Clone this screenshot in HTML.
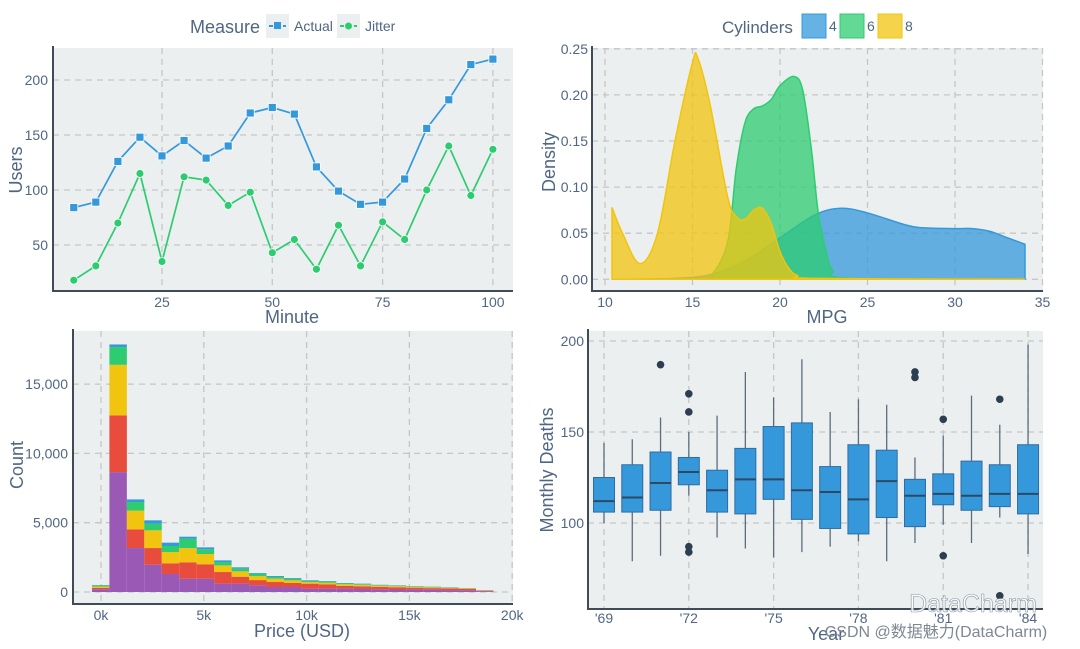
<!DOCTYPE html>
<html><head><meta charset="utf-8">
<style>
html,body{margin:0;padding:0;background:#fff;}
svg{display:block;font-family:"Liberation Sans","Noto Sans CJK SC",sans-serif;}
.tick{font-size:14px;fill:#506784;}
.title{font-size:18px;fill:#506784;}
</style></head>
<body>
<svg id="root" width="1080" height="649" viewBox="0 0 1080 649">
<g id="p1"></g>
<g id="p2"></g>
<g id="p3"></g>
<g id="p4"></g>
<text x="973" y="612" text-anchor="middle" font-size="25" fill="#ffffff" fill-opacity="0.85" stroke="#8a96a3" stroke-width="0.6">DataCharm</text>
<text x="936" y="637" text-anchor="middle" font-size="16" fill="#7d8894">CSDN @数据魅力(DataCharm)</text>
</svg>
<script>
// ---- chart 1 data ----
const minutes = [5,10,15,20,25,30,35,40,45,50,55,60,65,70,75,80,85,90,95,100];
const actualUsers = [84,89,126,148,131,145,129,140,170,175,169,121,99,87,89,110,156,182,214,219];
const jitterUsers = [18,31,70,115,35,112,109,86,98,43,55,28,68,31,71,55,100,140,95,137];
const userTicks = [50,100,150,200];
const minuteTicks = [25,50,75,100];
// ---- chart 2 data ----
const mpg4x = [10.4,14,16,18,20,22,23.5,25,27,28,30,31,32,33,34];
const mpg4y = [0,0.001,0.005,0.02,0.045,0.07,0.077,0.072,0.06,0.056,0.055,0.055,0.052,0.045,0.038];
const mpg6x = [10.4,15,16,17,17.5,18,18.5,19,19.5,20,20.8,21.3,21.8,22.2,22.7,23,24,34];
const mpg6y = [0,0.0005,0.003,0.04,0.12,0.17,0.185,0.188,0.195,0.21,0.22,0.205,0.14,0.07,0.025,0.01,0.001,0];
const mpg8x = [10.4,11,12,13,14,15,15.3,16,17,17.5,18,18.5,19,19.5,20,20.5,21,22,34];
const mpg8y = [0.078,0.05,0.017,0.05,0.15,0.235,0.24,0.19,0.09,0.068,0.065,0.075,0.077,0.06,0.03,0.012,0.004,0.001,0];
const densityTicks = [0,0.05,0.1,0.15,0.2,0.25];
const mpgTicks = [10,15,20,25,30,35];
// ---- chart 3 data ----
const binStart = -440, binWidth = 849;
const histPurple = [200,8650,3170,1970,1300,960,960,600,600,480,360,360,240,240,240,220,200,180,170,160,140,120,60];
const histRed = [100,4090,1350,1200,770,1180,1040,840,500,380,360,290,360,310,200,190,170,160,140,120,110,100,40];
const histYellow = [100,3650,1350,1280,810,1030,740,480,390,290,240,190,120,120,120,110,90,80,70,60,50,40,20];
const histGreen = [80,1280,620,480,440,680,340,240,190,170,120,120,70,100,60,50,40,40,30,30,20,20,10];
const histBlue = [20,190,190,240,240,140,140,120,100,50,70,50,50,20,30,30,20,20,20,20,20,10,5];
const countTicks = [0,5000,10000,15000];
const countLabels = ["0","5,000","10,000","15,000"];
const priceTicks = [0,5000,10000,15000,20000];
const priceLabels = ["0k","5k","10k","15k","20k"];
// ---- chart 4 data ----
const years = [69,70,71,72,73,74,75,76,77,78,79,80,81,82,83,84];
const whiskLow = [100,79,82,115,92,86,81,84,87,90,79,89,99,89,103,83];
const q1 = [106,106,107,121,106,105,113,102,97,94,103,98,110,107,109,105];
const medians = [112,114,122,128,118,124,124,118,117,113,123,115,116,115,116,116];
const q3 = [125,132,139,136,129,141,153,155,131,143,140,124,127,134,132,143];
const whiskHigh = [144,146,158,150,159,183,169,190,161,168,165,136,148,170,154,198];
const outlierYears = [71,72,72,72,72,80,80,81,81,83,83];
const outlierVals = [187,171,161,87,84,183,180,157,82,168,60];
const deathTicks = [100,150,200];
const yearTicks = [69,72,75,78,81,84];

const NS = "http://www.w3.org/2000/svg";
function mk(parent, tag, attrs, text){
  const e = document.createElementNS(NS, tag);
  for (const k in attrs) e.setAttribute(k, attrs[k]);
  if (text !== undefined) e.textContent = text;
  parent.appendChild(e);
  return e;
}
function frame(g, L, T, R, B, name){
  const bg = mk(g,'rect',{x:L,y:T,width:R-L,height:B-T,fill:'#ebeff0'});
  
  
}
function axes(g, L, T, R, B){
  const a = mk(g,'path',{d:`M${L},${T-2}V${B}H${R}`,fill:'none',stroke:'#3f4b57','stroke-width':2});
  
  
}
function vgrid(g, x, T, B){ mk(g,'line',{x1:x,x2:x,y1:T,y2:B,stroke:'#c4c6c8','stroke-width':1.3,'stroke-dasharray':'6,5'}); }
function hgrid(g, y, L, R){ mk(g,'line',{x1:L,x2:R,y1:y,y2:y,stroke:'#c4c6c8','stroke-width':1.3,'stroke-dasharray':'6,5'}); }
function ytitle(g, x, y, s){
  const t = mk(g,'text',{x:x,y:y,class:'title','text-anchor':'middle',transform:`rotate(-90 ${x} ${y})`},s);
  
  
}
function xtitle(g, x, y, s){
  const t = mk(g,'text',{x:x,y:y,class:'title','text-anchor':'middle'},s);
  
  
}

// ===== Chart 1 =====
(function(){
  const g = document.getElementById('p1');
  const L=53,T=48,R=513,B=291;
  const xs = v => 51.7 + v*110.3/25;
  const ys = v => 300 - v*55/50;
  frame(g,L,T,R,B,'users');
  minuteTicks.forEach(t=>{ vgrid(g,xs(t),T,B);
    const e = mk(g,'text',{x:xs(t),y:307,class:'tick','text-anchor':'middle'},t);
      });
  userTicks.forEach(t=>{ hgrid(g,ys(t),L,R);
    const e = mk(g,'text',{x:L-5,y:ys(t)+5,class:'tick','text-anchor':'end'},t);
      });
  axes(g,L,T,R,B);
  function series(vals,color,sq,name){
    const p = mk(g,'polyline',{points:minutes.map((m,i)=>xs(m)+','+ys(vals[i])).join(' '),fill:'none',stroke:color,'stroke-width':1.7});
     
    minutes.forEach((m,i)=>{
      let e;
      if(sq) e = mk(g,'rect',{x:xs(m)-4,y:ys(vals[i])-4,width:8,height:8,fill:color,stroke:'#fff','stroke-width':0.8});
      else e = mk(g,'circle',{cx:xs(m),cy:ys(vals[i]),r:4,fill:color,stroke:'#fff','stroke-width':0.8});
       
    });
  }
  series(actualUsers,'#3498db',true,'actual');
  series(jitterUsers,'#2ecc71',false,'jitter');
  ytitle(g,22,170,'Users'); xtitle(g,292,323,'Minute');
  const lt = mk(g,'text',{x:190,y:33,class:'title'},'Measure');
   
  [['Actual','#3498db',true,266],['Jitter','#2ecc71',false,337]].forEach(([n,c,sq,x])=>{
    const lg = mk(g,'g',{});
     
    mk(lg,'rect',{x:x,y:14,width:23,height:24,fill:'#ebeff0'});
    mk(lg,'line',{x1:x+3,x2:x+20,y1:26,y2:26,stroke:c,'stroke-width':2,'stroke-dasharray':'4,3'});
    if(sq) mk(lg,'rect',{x:x+8,y:22,width:7,height:7,fill:c}); else mk(lg,'circle',{cx:x+11.5,cy:26,r:3.5,fill:c});
    mk(lg,'text',{x:x+28,y:31,class:'tick','font-size':'14px'},n);
  });
})();

// ===== Chart 2 =====
(function(){
  const g = document.getElementById('p2');
  const L=592,T=48,R=1043,B=291;
  const xs = v => 605 + (v-10)*87.5/5;
  const ys = v => 279.3 - v*46.1/0.05;
  frame(g,L,T,R,B,'density');
  mpgTicks.forEach(t=>{ vgrid(g,xs(t),T,B);
    const e = mk(g,'text',{x:xs(t),y:307,class:'tick','text-anchor':'middle'},t);
      });
  densityTicks.forEach(t=>{ hgrid(g,ys(t),L,R);
    const e = mk(g,'text',{x:L-4,y:ys(t)+5,class:'tick','text-anchor':'end'},t.toFixed(2));
      });
  axes(g,L,T,R,B);
  function area(xv,yv,color,name){
    let d = `M${xs(xv[0])},${ys(0)}`;
    const pts = xv.map((x,i)=>[xs(x),ys(yv[i])]);
    d += `L${pts[0][0]},${pts[0][1]}`;
    for(let i=1;i<pts.length;i++){
      const p0=pts[Math.max(0,i-2)],p1=pts[i-1],p2=pts[i],p3=pts[Math.min(pts.length-1,i+1)];
      const c1x=p1[0]+(p2[0]-p0[0])/6,c1y=p1[1]+(p2[1]-p0[1])/6;
      const c2x=p2[0]-(p3[0]-p1[0])/6,c2y=p2[1]-(p3[1]-p1[1])/6;
      d+=`C${c1x},${Math.min(c1y,ys(0))} ${c2x},${Math.min(c2y,ys(0))} ${p2[0]},${p2[1]}`;
    }
    d += `L${xs(xv[xv.length-1])},${ys(0)}Z`;
    const p = mk(g,'path',{d:d,fill:color,'fill-opacity':0.75,stroke:color,'stroke-width':1.5});
     
  }
  area(mpg4x,mpg4y,'#3498db','density-4-cyl');
  area(mpg6x,mpg6y,'#2ecc71','density-6-cyl');
  area(mpg8x,mpg8y,'#f1c40f','density-8-cyl');
  ytitle(g,555,162,'Density'); xtitle(g,827,323,'MPG');
  const lt = mk(g,'text',{x:722,y:33,class:'title','font-size':'17px',style:'font-size:17px'},'Cylinders');
   
  [['4','#3498db',802],['6','#2ecc71',840],['8','#f1c40f',878]].forEach(([n,c,x])=>{
    const lg = mk(g,'g',{});
     
    mk(lg,'rect',{x:x,y:14,width:24,height:24,fill:c,'fill-opacity':0.75,stroke:c});
    mk(lg,'text',{x:x+27,y:31,class:'tick','font-size':'14px'},n);
  });
})();

// ===== Chart 3 =====
(function(){
  const g = document.getElementById('p3');
  const L=73,T=331,R=513,B=604;
  const xs = v => 101 + v*102.8/5000;
  const ys = v => 592 - v*69.3/5000;
  frame(g,L,T,R,B,'histogram');
  priceTicks.forEach((t,i)=>{ vgrid(g,xs(t),T,B);
    const e = mk(g,'text',{x:xs(t),y:620,class:'tick','text-anchor':'middle'},priceLabels[i]);
      });
  countTicks.forEach((t,i)=>{ hgrid(g,ys(t),L,R);
    const e = mk(g,'text',{x:L-5,y:ys(t)+5,class:'tick','text-anchor':'end'},countLabels[i]);
      });
  const stacks = [[histPurple,'#9b59b6','ideal'],[histRed,'#e74c3c','premium'],[histYellow,'#f1c40f','very-good'],[histGreen,'#2ecc71','good'],[histBlue,'#3498db','fair']];
  histPurple.forEach((_,i)=>{
    let base = 0;
    const x0 = xs(binStart+i*binWidth), x1 = xs(binStart+(i+1)*binWidth);
    stacks.forEach(([arr,c,n])=>{
      const v = arr[i];
      const r = mk(g,'rect',{x:x0,y:ys(base+v),width:x1-x0,height:ys(base)-ys(base+v),fill:c});
       
      base += v;
    });
  });
  axes(g,L,T,R,B);
  ytitle(g,23,465,'Count'); xtitle(g,302,637,'Price (USD)');
})();

// ===== Chart 4 =====
(function(){
  const g = document.getElementById('p4');
  const L=588,T=331,R=1043,B=609;
  const xs = v => 604 + (v-69)*28.27;
  const ys = v => 523 - (v-100)*1.82;
  frame(g,L,T,R,B,'boxplot');
  yearTicks.forEach(t=>{ vgrid(g,xs(t),T,B);
    const e = mk(g,'text',{x:xs(t),y:623,class:'tick','text-anchor':'middle'},"'"+t);
      });
  deathTicks.forEach(t=>{ hgrid(g,ys(t),L,R);
    const e = mk(g,'text',{x:L-4,y:ys(t)+5,class:'tick','text-anchor':'end'},t);
      });
  years.forEach((yr,i)=>{
    const x = xs(yr), w = 21;
    const bx = mk(g,'g',{});
     
    mk(bx,'line',{x1:x,x2:x,y1:ys(whiskLow[i]),y2:ys(whiskHigh[i]),stroke:'#5d6d7e','stroke-width':1.3});
    mk(bx,'rect',{x:x-w/2,y:ys(q3[i]),width:w,height:ys(q1[i])-ys(q3[i]),fill:'#3498db',stroke:'#2e6da4','stroke-width':1});
    mk(bx,'line',{x1:x-w/2,x2:x+w/2,y1:ys(medians[i]),y2:ys(medians[i]),stroke:'#2c4a66','stroke-width':2});
  });
  outlierYears.forEach((yr,i)=>{
    const c = mk(g,'circle',{cx:xs(yr),cy:ys(outlierVals[i]),r:3.8,fill:'#2c3e50'});
     
  });
  axes(g,L,T,R,B);
  ytitle(g,553,470,'Monthly Deaths'); xtitle(g,826,640,'Year');
})();
</script>
</body></html>
